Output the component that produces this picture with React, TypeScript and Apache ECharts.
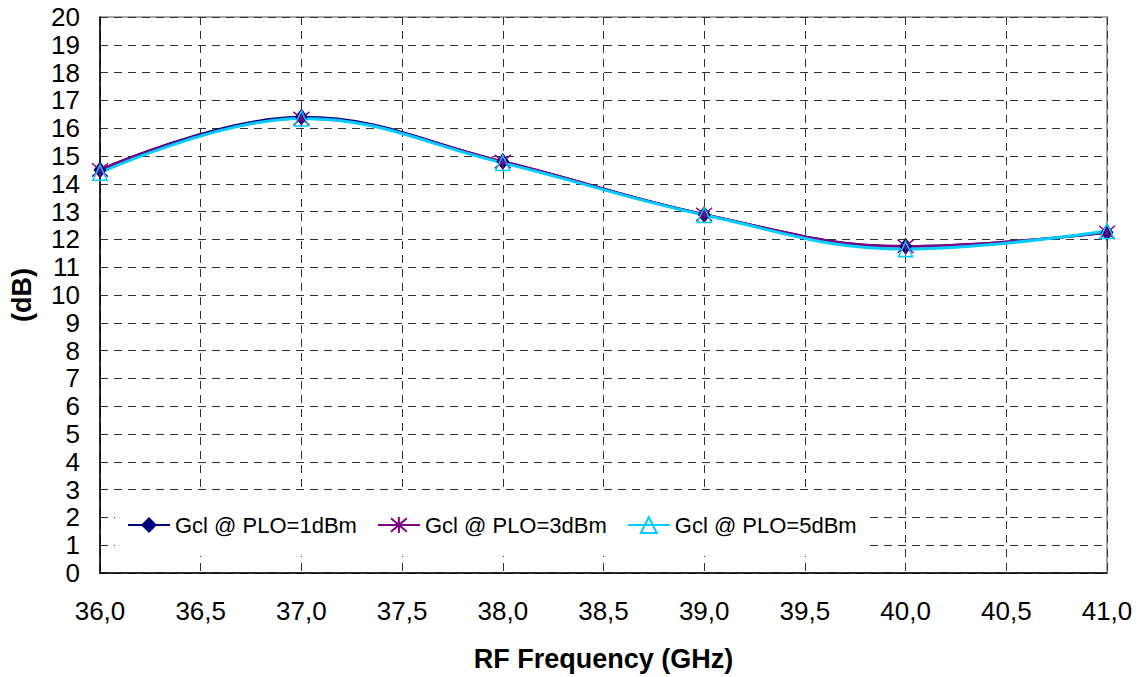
import React, { useEffect, useRef } from "react";
import * as echarts from "echarts";

// RF frequency points (GHz)
const frequencies = [36, 37, 38, 39, 40, 41];

// Conversion gain (dB) for three LO power levels
const gcl1dBm = [14.5, 16.4, 14.8, 12.9, 11.75, 12.25];
const gcl3dBm = [14.5, 16.35, 14.8, 12.9, 11.75, 12.25];
const gcl5dBm = [14.4, 16.35, 14.75, 12.88, 11.65, 12.3];

const seriesNames = ["Gcl @ PLO=1dBm", "Gcl @ PLO=3dBm", "Gcl @ PLO=5dBm"];

const FONT = "'Liberation Sans', Arial, sans-serif";

// asterisk marker: X plus vertical stroke
const ASTERISK = "path://M0,0 L10,10 M10,0 L0,10 M5,-1 L5,11";

const pairs = (vals: number[]) => frequencies.map((f, i) => [f, vals[i]]);

export default function App() {
  const ref = useRef<HTMLDivElement>(null);

  useEffect(() => {
    if (!ref.current) return;
    const chart = echarts.init(ref.current, null, { renderer: "svg" });
    chart.setOption({
      animation: false,
      backgroundColor: "#ffffff",
      grid: {
        left: 100,
        right: 33,
        top: 17,
        bottom: 102,
        show: true,
        borderColor: "#8c8c8c",
        borderWidth: 1.5,
      },
      legend: {
        left: 115,
        top: 493,
        backgroundColor: "#ffffff",
        padding: [21, 12, 20, 12],
        itemWidth: 42,
        itemHeight: 20,
        itemGap: 20,
        selectedMode: false,
        textStyle: { fontFamily: FONT, fontSize: 22, color: "#000" },
        data: seriesNames,
      },
      xAxis: {
        type: "value",
        min: 36,
        max: 41,
        interval: 0.5,
        name: "RF Frequency (GHz)",
        nameLocation: "middle",
        nameGap: 72,
        nameTextStyle: { fontFamily: FONT, fontSize: 27, fontWeight: "bold", color: "#000" },
        axisLine: { show: true, lineStyle: { color: "#000", width: 1.5 } },
        axisTick: { show: false },
        axisLabel: {
          margin: 25,
          fontFamily: FONT,
          fontSize: 26,
          color: "#000",
          formatter: (v: number) => v.toFixed(1).replace(".", ","),
        },
        splitLine: { show: true, lineStyle: { color: "#333", type: [8, 6], width: 1 } },
      },
      yAxis: {
        type: "value",
        min: 0,
        max: 20,
        interval: 1,
        name: "(dB)",
        nameLocation: "middle",
        nameGap: 65,
        nameTextStyle: { fontFamily: FONT, fontSize: 27, fontWeight: "bold", color: "#000" },
        axisLine: { show: true, lineStyle: { color: "#000", width: 1.5 } },
        axisTick: { show: false },
        axisLabel: { margin: 20, fontFamily: FONT, fontSize: 26, color: "#000" },
        splitLine: { show: true, lineStyle: { color: "#333", type: [8, 6], width: 1 } },
      },
      series: [
        {
          name: seriesNames[0],
          type: "line",
          smooth: 0.4,
          data: pairs(gcl1dBm),
          symbol: "diamond",
          symbolSize: [13, 17],
          lineStyle: { color: "#000080", width: 2.5 },
          itemStyle: { color: "#000080" },
        },
        {
          name: seriesNames[1],
          type: "line",
          smooth: 0.4,
          data: pairs(gcl3dBm),
          symbol: ASTERISK,
          symbolSize: 16,
          lineStyle: { color: "#800080", width: 2.5 },
          itemStyle: { color: "transparent", borderColor: "#800080", borderWidth: 1.5 },
        },
        {
          name: seriesNames[2],
          type: "line",
          smooth: 0.4,
          data: pairs(gcl5dBm),
          symbol: "triangle",
          symbolSize: [14, 15],
          lineStyle: { color: "#00CCFF", width: 3 },
          itemStyle: { color: "transparent", borderColor: "#00CCFF", borderWidth: 1.5 },
        },
      ],
    });
    return () => chart.dispose();
  }, []);

  return (
    <div
      ref={ref}
      style={{ position: "fixed", left: 0, top: 0, width: 1140, height: 677 }}
    />
  );
}
